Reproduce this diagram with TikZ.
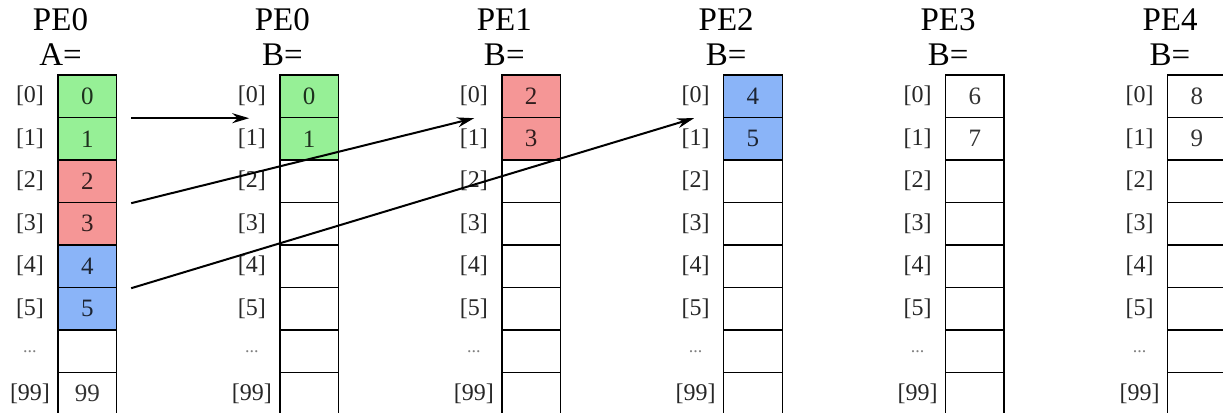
\documentclass[tikz,border=0pt]{standalone}
\usepackage{fontspec}
\setmainfont{Liberation Serif}
\usetikzlibrary{positioning,arrows.meta}

\definecolor{cg}{RGB}{150,240,150}
\definecolor{cr}{RGB}{245,150,150}
\definecolor{cb}{RGB}{138,180,248}

\tikzset{
  cell/.style={draw, line width=1.4bp, minimum width=58.5bp, minimum height=42.5bp,
    inner sep=0pt, font=\fontsize{25bp}{25bp}\selectfont},
  idx/.style={font=\fontsize{24bp}{24bp}\selectfont, text=black!85, inner sep=0pt},
  head/.style={font=\fontsize{33bp}{33bp}\selectfont, inner sep=0pt},
  move/.style={->, line width=2bp}
}

\begin{document}
\begin{tikzpicture}[x=1bp, y=-1bp, >={Stealth[length=17bp,width=10bp]}, node distance=35bp, on grid]
\useasboundingbox (0,0) rectangle (1223,412);
% one column per array
\foreach \i/\pe/\arr/\cells in {
  0/PE0/A/{0/cg,1/cg,2/cr,3/cr,4/cb,5/cb,{}/white,99/white},
  1/PE0/B/{0/cg,1/cg,{}/white,{}/white,{}/white,{}/white,{}/white,{}/white},
  2/PE1/B/{2/cr,3/cr,{}/white,{}/white,{}/white,{}/white,{}/white,{}/white},
  3/PE2/B/{4/cb,5/cb,{}/white,{}/white,{}/white,{}/white,{}/white,{}/white},
  4/PE3/B/{6/white,7/white,{}/white,{}/white,{}/white,{}/white,{}/white,{}/white},
  5/PE4/B/{8/white,9/white,{}/white,{}/white,{}/white,{}/white,{}/white,{}/white}}{
  \node[head] (pe\i) at ({60.5+221.9*\i},20) {\pe};
  \node[head] (ar\i) [below=of pe\i] {\arr=};
  \foreach \v/\f [count=\r from 0] in \cells {
    \node[cell, fill=\f, text=\f!20!black] (c\i-\r) at ({87.25+221.9*\i},{96.25+42.5*\r}) {\v};
  }
  \foreach \r/\idx in {0/{[0]},1/{[1]},2/{[2]},3/{[3]},4/{[4]},5/{[5]},
      6/{\color{gray}\fontsize{18bp}{18bp}\selectfont...},7/{[99]}}
    \node[idx] (l\i-\r) [left=57.25bp of c\i-\r] {\idx};
}
% ends of the moves
\coordinate (s0) at ([xshift=14bp]c0-0.south east);
\coordinate (s1) at ([xshift=14bp]c0-2.south east);
\coordinate (s2) at ([xshift=14bp]c0-4.south east);
\coordinate (t0) at ([xshift=-30bp]c1-0.south west);
\coordinate (t1) at ([xshift=-27bp]c2-0.south west);
\coordinate (t2) at ([xshift=-29bp]c3-0.south west);
\path[move]
(s0) edge (t0)
(s1) edge (t1)
(s2) edge (t2)
;
\end{tikzpicture}
\end{document}
